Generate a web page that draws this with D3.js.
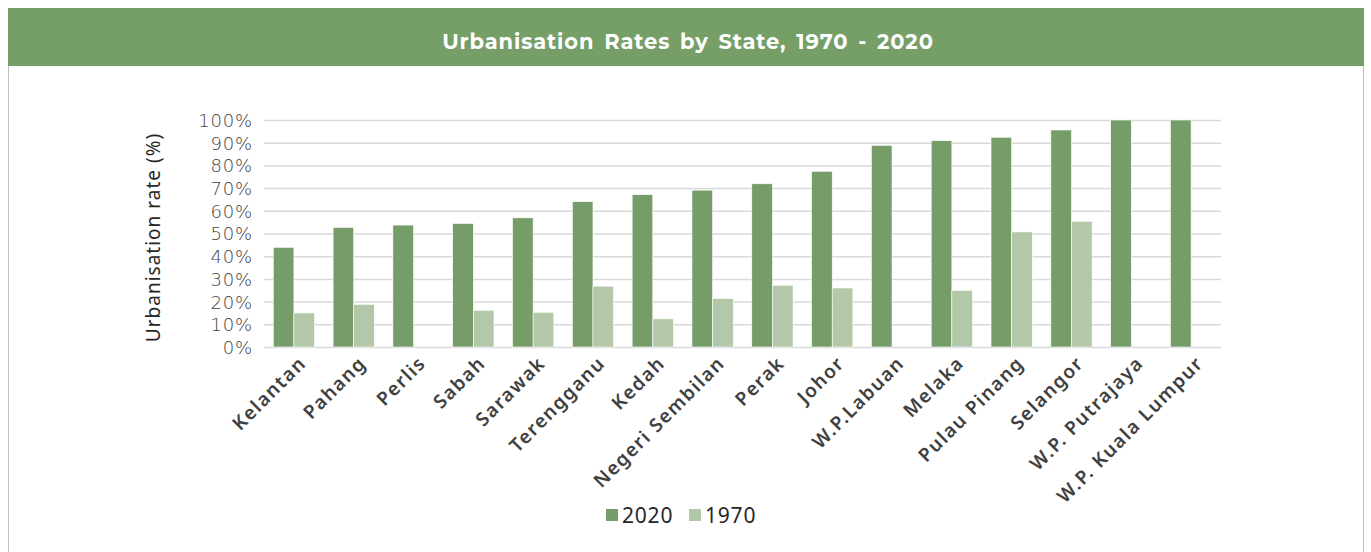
<!DOCTYPE html>
<html>
<head>
<meta charset="utf-8">
<script src="https://cdn.jsdelivr.net/npm/d3@7/dist/d3.min.js"></script>
<style>
  body { margin: 0; background: #fff; }
  svg { display: block; font-family: "Montserrat", "Noto Sans", "Open Sans", sans-serif; }
</style>
</head>
<body>
<svg></svg>
<script>
// data
let states = ["Kelantan", "Pahang", "Perlis", "Sabah", "Sarawak", "Terengganu", "Kedah",
              "Negeri Sembilan", "Perak", "Johor", "W.P.Labuan", "Melaka", "Pulau Pinang",
              "Selangor", "W.P. Putrajaya", "W.P. Kuala Lumpur"];
let rate2020 = [43.9, 52.7, 53.7, 54.4, 56.9, 64.0, 67.1, 69.1, 71.9, 77.4, 88.8, 90.9, 92.4, 95.6, 100, 100];
let rate1970 = [15.0, 18.8, null, 16.2, 15.3, 26.8, 12.4, 21.3, 27.2, 26.0, null, 24.9, 50.7, 55.4, null, null];
let series   = ["2020", "1970"];
let yTicks   = [0, 10, 20, 30, 40, 50, 60, 70, 80, 90, 100];

let width   = 1371,
    height  = 552,
    pLeft   = 264,
    pRight  = 1221,
    pTop    = 120,
    pBottom = 347;

let colors = { "2020": "#769d68", "1970": "#b3c8a8" };

let svg = d3.select('svg')
            .attr('width', width)
            .attr('height', height);

// frame + header
svg.append('rect')
    .attr('x', 8.5).attr('y', 8.5)
    .attr('width', 1355).attr('height', 560)
    .attr('fill', 'none')
    .attr('stroke', '#bfbfbf');

svg.append('rect')
    .attr('x', 8).attr('y', 8)
    .attr('width', 1356).attr('height', 58)
    .attr('fill', '#769f68');

svg.append('text')
    .attr('x', 688)
    .attr('y', 49)
    .attr('text-anchor', 'middle')
    .attr('fill', '#fff')
    .attr('font-size', '21px')
    .attr('font-weight', 'bold')
    .attr('letter-spacing', '0.9px')
    .attr('word-spacing', '3px')
    .text('Urbanisation Rates by State, 1970 - 2020');

// scales
let xScale = d3.scaleBand()
               .domain(states)
               .range([pLeft, pRight])
               .paddingInner(0.31)
               .paddingOuter(0.155);

let xSub = d3.scaleBand()
             .domain(series)
             .range([0, xScale.bandwidth()]);

let yScale = d3.scaleLinear()
               .domain([0, 100])
               .range([pBottom, pTop]);

// grid
let yAxis = d3.axisLeft(yScale)
              .tickValues(yTicks)
              .tickSize(pLeft - pRight)
              .tickFormat(d => d + '%');

let gy = svg.append('g')
    .attr('transform', `translate(${pLeft}, 0)`)
    .call(yAxis);
gy.select('.domain').remove();
gy.selectAll('line')
    .attr('stroke', '#d9d9d9')
    .attr('stroke-width', 1.5);
gy.selectAll('text')
    .attr('x', -11)
    .attr('dy', '0.36em')
    .attr('fill', '#404040')
    .attr('font-size', '18px')
    .attr('font-weight', 300)
    .attr('letter-spacing', '0.8px')
    .attr('font-family', '"DejaVu Sans", sans-serif');

// bars
let rows = states.map((s, i) => ({ state: s, values: [
    { key: "2020", v: rate2020[i] },
    { key: "1970", v: rate1970[i] }
]}));

svg.append('g')
  .selectAll('g')
  .data(rows)
  .enter()
  .append('g')
    .attr('transform', d => `translate(${xScale(d.state)}, 0)`)
  .selectAll('rect')
  .data(d => d.values.filter(e => e.v !== null))
  .enter()
  .append('rect')
    .attr('x', d => xSub(d.key))
    .attr('y', d => yScale(d.v))
    .attr('width', xSub.bandwidth())
    .attr('height', d => pBottom - yScale(d.v))
    .attr('fill', d => colors[d.key])
    .attr('stroke', '#fff')
    .attr('stroke-width', 0.6);

// x labels
let xAxis = d3.axisBottom(xScale).tickSize(0);
let gx = svg.append('g')
    .attr('transform', `translate(0, ${pBottom})`)
    .call(xAxis);
gx.select('.domain').remove();
gx.selectAll('text')
    .attr('text-anchor', 'end')
    .attr('transform', 'translate(4, 8) rotate(-45)')
    .attr('x', 0).attr('y', 0)
    .attr('dy', '0.7em')
    .attr('fill', '#404040')
    .attr('font-size', '19px')
    .attr('font-weight', 600)
    .attr('letter-spacing', '1.5px')
    .attr('font-family', '"Noto Sans", sans-serif');

// y label
svg.append('text')
    .attr('transform', 'rotate(-90)')
    .attr('x', -(pTop + pBottom) / 2 - 4)
    .attr('y', 160)
    .attr('text-anchor', 'middle')
    .attr('fill', '#262626')
    .attr('font-size', '19px')
    .attr('letter-spacing', '1px')
    .attr('font-family', '"Noto Sans", sans-serif')
    .text('Urbanisation rate (%)');

// legend
let legend = svg.append('g')
  .selectAll('g')
  .data(series)
  .enter()
  .append('g')
    .attr('transform', (d, i) => `translate(${606 + i * 83}, 509)`);
legend.append('rect')
    .attr('width', 12).attr('height', 12)
    .attr('fill', d => colors[d]);
legend.append('text')
    .attr('x', 16)
    .attr('y', 13.5)
    .attr('fill', '#262626')
    .attr('font-size', '21px')
    .attr('letter-spacing', '0.8px')
    .attr('font-family', '"Noto Sans", sans-serif')
    .text(d => d);
</script>
</body>
</html>
